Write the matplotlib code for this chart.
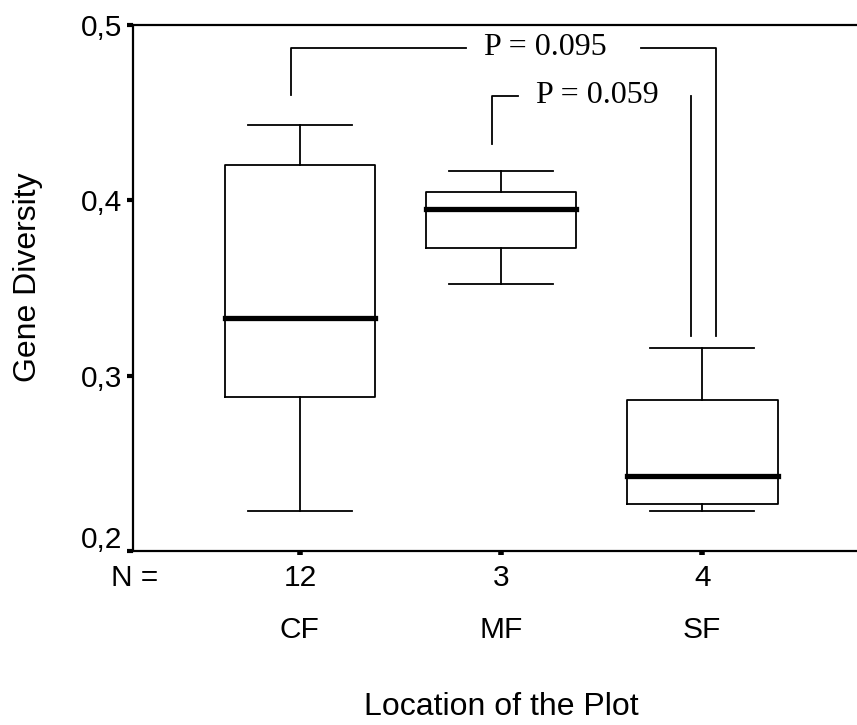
import matplotlib
matplotlib.use("Agg")
import matplotlib.pyplot as plt
import matplotlib.transforms as mtransforms

# ---- data ----
categories = ["CF", "MF", "SF"]
n_values = ["12", "3", "4"]
whislo = [0.223, 0.352, 0.223]
q1 = [0.288, 0.373, 0.227]
med = [0.333, 0.395, 0.243]
q3 = [0.420, 0.405, 0.286]
whishi = [0.443, 0.417, 0.316]
yticks = [0.2, 0.3, 0.4, 0.5]
ytick_labels = ["0,2", "0,3", "0,4", "0,5"]
p_labels = ["P = 0.095", "P = 0.059"]

plt.rcParams['font.family'] = ['Liberation Sans', 'DejaVu Sans']

fig = plt.figure(figsize=(8.57, 7.25), dpi=100)
ax = fig.add_axes([133/857, (725-551)/725, (857-133)/857, (551-25)/725])

stats = []
for i, c in enumerate(categories):
    stats.append(dict(label=c, whislo=whislo[i], q1=q1[i], med=med[i],
                      q3=q3[i], whishi=whishi[i], fliers=[]))

positions = [1, 2, 3]
ax.bxp(stats, positions=positions, widths=0.75, capwidths=0.52,
       showfliers=False,
       boxprops=dict(color='black', linewidth=1.3),
       whiskerprops=dict(color='black', linewidth=1.3),
       capprops=dict(color='black', linewidth=1.3),
       medianprops=dict(color='black', linewidth=3.8, solid_capstyle='projecting'))

ax.set_xlim(0.17, 3.77)
ax.set_ylim(0.2, 0.5)

ax.spines['right'].set_visible(False)
for s in ['left', 'top', 'bottom']:
    ax.spines[s].set_linewidth(1.6)

ax.set_yticks(yticks)
ax.set_yticklabels(ytick_labels, fontsize=21.5)
ax.set_xticks(positions)
ax.set_xticklabels(n_values, fontsize=21.5)
ax.tick_params(axis='y', direction='out', length=4, width=3, pad=4)
ax.tick_params(axis='x', direction='out', length=3, width=4, pad=6)

# lift the bottom y label as in the reference
lbl0 = ax.get_yticklabels()[0]
lbl0.set_transform(lbl0.get_transform() +
                   mtransforms.ScaledTranslation(0, 14/100, fig.dpi_scale_trans))

trans = mtransforms.blended_transform_factory(ax.transData, fig.transFigure)
for p, c in zip(positions, categories):
    ax.text(p, (725-630)/725, c, transform=trans, ha='center', va='center', fontsize=21.5)
fig.text(135/857, (725-578)/725, "N =", ha='center', va='center', fontsize=21.5)

fig.text(501/857, (725-707)/725, "Location of the Plot", ha='center', va='center', fontsize=23)
fig.text(28/857, (725-277)/725, "Gene Diversity", ha='center', va='center',
         rotation=90, fontsize=23)

# significance brackets
lw = 1.3
# P = 0.095 bracket: CF to SF
ax.plot([0.955, 0.955, 1.826], [0.46, 0.487, 0.487], color='black', lw=lw)
ax.plot([2.697, 3.07, 3.07], [0.487, 0.487, 0.3227], color='black', lw=lw)
ax.text(2.22, 0.487, p_labels[0], ha='center', va='center', fontsize=23,
        family=['Liberation Serif', 'DejaVu Serif'])
# P = 0.059 bracket: MF to SF
ax.plot([1.955, 1.955, 2.085], [0.432, 0.4596, 0.4596], color='black', lw=lw)
ax.plot([2.945, 2.945], [0.4596, 0.3227], color='black', lw=lw)
ax.text(2.478, 0.4596, p_labels[1], ha='center', va='center', fontsize=23,
        family=['Liberation Serif', 'DejaVu Serif'])

fig.savefig("out.png", dpi=100)
